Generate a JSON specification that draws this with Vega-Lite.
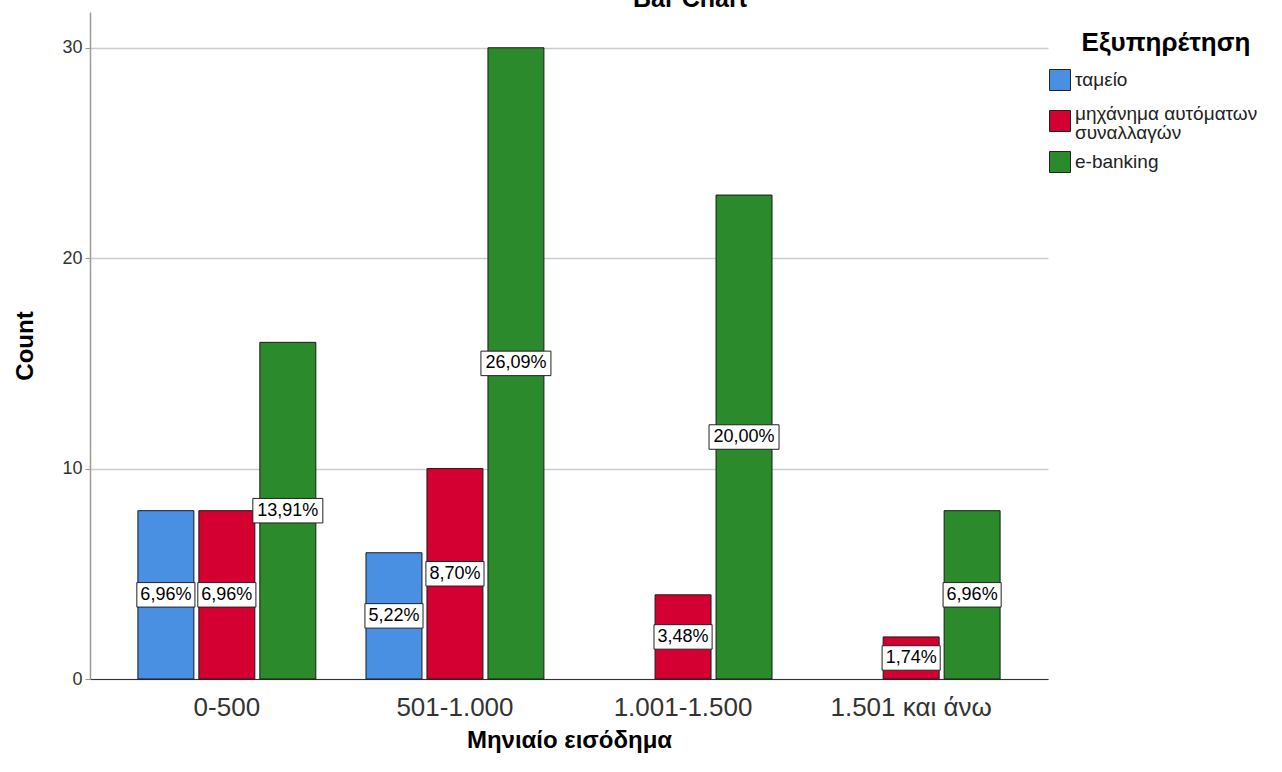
{
  "$schema": "https://vega.github.io/schema/vega-lite/v6.json",
  "width": 958,
  "height": 667,
  "autosize": "none",
  "padding": {"left": 90, "top": 12, "right": 234, "bottom": 93},
  "background": "white",
  "title": {
    "text": "Bar Chart",
    "anchor": "middle",
    "frame": "group",
    "dx": 121,
    "offset": 0,
    "fontSize": 25,
    "fontWeight": "bold",
    "color": "#000000"
  },
  "data": {
    "values": [
      {"income": "0-500", "service": "ταμείο", "count": 8},
      {"income": "0-500", "service": "μηχάνημα αυτόματων συναλλαγών", "count": 8},
      {"income": "0-500", "service": "e-banking", "count": 16},
      {"income": "501-1.000", "service": "ταμείο", "count": 6},
      {"income": "501-1.000", "service": "μηχάνημα αυτόματων συναλλαγών", "count": 10},
      {"income": "501-1.000", "service": "e-banking", "count": 30},
      {"income": "1.001-1.500", "service": "μηχάνημα αυτόματων συναλλαγών", "count": 4},
      {"income": "1.001-1.500", "service": "e-banking", "count": 23},
      {"income": "1.501 και άνω", "service": "μηχάνημα αυτόματων συναλλαγών", "count": 2},
      {"income": "1.501 και άνω", "service": "e-banking", "count": 8}
    ]
  },
  "transform": [
    {"joinaggregate": [{"op": "sum", "field": "count", "as": "total"}]},
    {"calculate": "datum.count / 2", "as": "mid"},
    {"calculate": "replace(format(datum.count / datum.total, '.2%'), '.', ',')", "as": "pct"}
  ],
  "encoding": {
    "x": {
      "field": "income",
      "type": "nominal",
      "sort": ["0-500", "501-1.000", "1.001-1.500", "1.501 και άνω"],
      "scale": {"paddingInner": 0.22, "paddingOuter": 0.21},
      "axis": {
        "title": "Μηνιαίο εισόδημα",
        "labelAngle": 0,
        "labelFontSize": 26,
        "labelColor": "#333333",
        "labelPadding": 15,
        "ticks": false,
        "domainColor": "#333333",
        "domainWidth": 1,
        "titleFontSize": 24,
        "titleFontWeight": "bold",
        "titleColor": "#000000",
        "titlePadding": 8,
        "grid": false
      }
    },
    "xOffset": {
      "field": "service",
      "type": "nominal",
      "sort": ["ταμείο", "μηχάνημα αυτόματων συναλλαγών", "e-banking"],
      "scale": {
        "domain": ["ταμείο", "μηχάνημα αυτόματων συναλλαγών", "e-banking"],
        "paddingInner": 0.082,
        "paddingOuter": 0
      }
    }
  },
  "layer": [
    {
      "mark": {"type": "bar", "stroke": "#1a1a1a", "strokeWidth": 1},
      "encoding": {
        "y": {
          "field": "count",
          "type": "quantitative",
          "scale": {"domain": [0, 31.7], "nice": false},
          "axis": {
            "title": "Count",
            "values": [0, 10, 20, 30],
            "labelFontSize": 18,
            "labelColor": "#333333",
            "labelPadding": 3,
            "tickSize": 5,
            "tickColor": "#9a9a9a",
            "domainColor": "#9a9a9a",
            "domainWidth": 1.5,
            "grid": true,
            "gridColor": "#cccccc",
            "gridWidth": 1.5,
            "titleFontSize": 24,
            "titleFontWeight": "bold",
            "titleColor": "#000000",
            "titlePadding": 24
          }
        },
        "color": {
          "field": "service",
          "type": "nominal",
          "scale": {
            "domain": ["ταμείο", "μηχάνημα αυτόματων συναλλαγών", "e-banking"],
            "range": ["#4a90e2", "#d50032", "#2b8a2b"]
          },
          "legend": {
            "title": "Εξυπηρέτηση",
            "orient": "none",
            "legendX": 959,
            "legendY": 18,
            "titleFontSize": 26,
            "titleFontWeight": "bold",
            "titleColor": "#000000",
            "titleAlign": "center",
            "titleAnchor": "middle",
            "titlePadding": 13,
            "symbolType": "square",
            "symbolSize": 441,
            "symbolStrokeColor": "#222222",
            "symbolStrokeWidth": 1,
            "symbolOpacity": 1,
            "labelFontSize": 19,
            "labelColor": "#222222",
            "labelOffset": 4,
            "labelLimit": 300,
            "labelExpr": "datum.label == 'μηχάνημα αυτόματων συναλλαγών' ? ['μηχάνημα αυτόματων', 'συναλλαγών'] : datum.label",
            "gridAlign": "all",
            "rowPadding": 3,
            "encode": {
              "title": {"update": {"dx": {"value": 13}}},
              "labels": {
                "update": {
                  "lineHeight": {"value": 19},
                  "dy": {"signal": "datum.label == 'μηχάνημα αυτόματων συναλλαγών' ? -7 : 0"}
                }
              }
            }
          }
        }
      }
    },
    {
      "mark": {"type": "point", "filled": true, "fill": "white", "stroke": "#222222", "strokeWidth": 1, "opacity": 1, "size": 4900},
      "encoding": {
        "y": {"field": "mid", "type": "quantitative"},
        "shape": {
          "condition": {"test": "length(datum.pct) > 5", "value": "M-1,-0.35L1,-0.35L1,0.35L-1,0.35Z"},
          "value": "M-0.83,-0.35L0.83,-0.35L0.83,0.35L-0.83,0.35Z"
        }
      }
    },
    {
      "mark": {"type": "text", "fontSize": 18, "color": "#000000", "baseline": "middle"},
      "encoding": {
        "y": {"field": "mid", "type": "quantitative"},
        "text": {"field": "pct"}
      }
    }
  ],
  "config": {
    "font": "Liberation Sans",
    "view": {"stroke": null}
  }
}
